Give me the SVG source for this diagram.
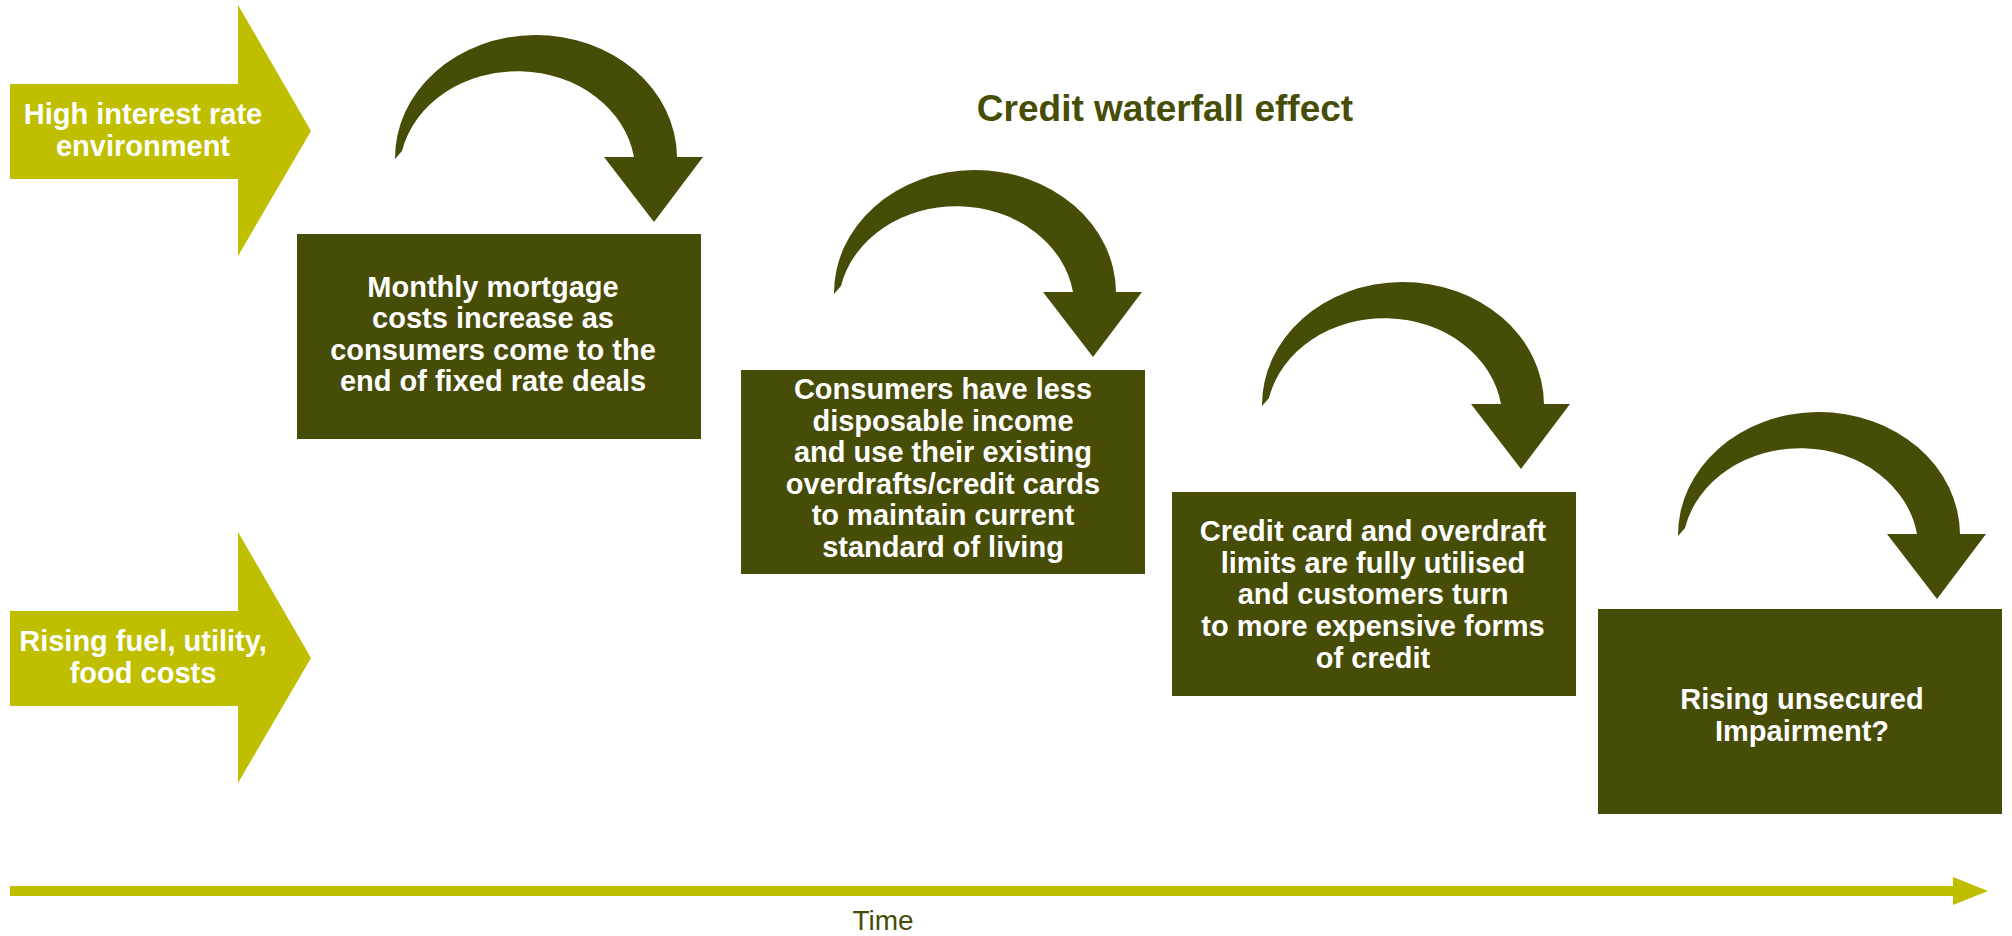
<svg xmlns="http://www.w3.org/2000/svg" xmlns:xlink="http://www.w3.org/1999/xlink" width="2012" height="936" viewBox="0 0 2012 936">
  <style>
    .driver { fill: #BFBF00; }
    .stage { fill: #474C06; }
    .flow { fill: #474C06; }
    .lbl { font-family: "Liberation Sans", Arial, Helvetica, sans-serif; font-weight: bold; font-size: 29px; fill: #FFFFFF; text-anchor: middle; }
    .title { font-family: "Liberation Sans", Arial, Helvetica, sans-serif; font-weight: bold; font-size: 37px; fill: #474C06; text-anchor: middle; }
    .axis-lbl { font-family: "Liberation Sans", Arial, Helvetica, sans-serif; font-size: 28px; fill: #474C06; text-anchor: middle; }
  </style>
  <defs>
    <!-- curved "fall-through" arrow: tapered crescent shaft plus triangular head -->
    <path id="curve-arrow" d="M395,159 A141,123 0 0 1 677,157 L703,157 L654,222 L604,157 L634,157 A118,101 0 0 0 402,151 Z"/>
  </defs>

  <rect width="2012" height="936" fill="#FFFFFF"/>

  <text class="title" x="1165" y="121">Credit waterfall effect</text>

  <!-- external drivers -->
  <g id="driver-interest">
    <path class="driver" d="M10,84 L238,84 L238,5 L311,131 L238,256 L238,179 L10,179 Z"/>
    <text class="lbl" x="143" y="124">High interest rate</text>
    <text class="lbl" x="143" y="156">environment</text>
  </g>
  <g id="driver-costs">
    <path class="driver" d="M10,611 L238,611 L238,532 L311,658 L238,783 L238,706 L10,706 Z"/>
    <text class="lbl" x="143" y="651">Rising fuel, utility,</text>
    <text class="lbl" x="143" y="683">food costs</text>
  </g>

  <!-- waterfall stages -->
  <g id="stage-mortgage">
    <rect class="stage" x="297" y="234" width="404" height="205"/>
    <text class="lbl" x="493" y="297">Monthly mortgage</text>
    <text class="lbl" x="493" y="328">costs increase as</text>
    <text class="lbl" x="493" y="360">consumers come to the</text>
    <text class="lbl" x="493" y="391">end of fixed rate deals</text>
  </g>
  <g id="stage-income">
    <rect class="stage" x="741" y="370" width="404" height="204"/>
    <text class="lbl" x="943" y="399">Consumers have less</text>
    <text class="lbl" x="943" y="431">disposable income</text>
    <text class="lbl" x="943" y="462">and use their existing</text>
    <text class="lbl" x="943" y="494">overdrafts/credit cards</text>
    <text class="lbl" x="943" y="525">to maintain current</text>
    <text class="lbl" x="943" y="557">standard of living</text>
  </g>
  <g id="stage-limits">
    <rect class="stage" x="1172" y="492" width="404" height="204"/>
    <text class="lbl" x="1373" y="541">Credit card and overdraft</text>
    <text class="lbl" x="1373" y="573">limits are fully utilised</text>
    <text class="lbl" x="1373" y="604">and customers turn</text>
    <text class="lbl" x="1373" y="636">to more expensive forms</text>
    <text class="lbl" x="1373" y="668">of credit</text>
  </g>
  <g id="stage-impairment">
    <rect class="stage" x="1598" y="609" width="404" height="205"/>
    <text class="lbl" x="1802" y="709">Rising unsecured</text>
    <text class="lbl" x="1802" y="741">Impairment?</text>
  </g>

  <!-- connectors between stages -->
  <g id="connectors">
    <use class="flow" xlink:href="#curve-arrow"/>
    <use class="flow" xlink:href="#curve-arrow" transform="translate(439,135)"/>
    <use class="flow" xlink:href="#curve-arrow" transform="translate(867,247)"/>
    <use class="flow" xlink:href="#curve-arrow" transform="translate(1283,377)"/>
  </g>

  <!-- time axis -->
  <g id="time-axis">
    <path class="driver" d="M10,886 L1953,886 L1953,877 L1988,891 L1953,905 L1953,896 L10,896 Z"/>
    <text class="axis-lbl" x="883" y="930">Time</text>
  </g>
</svg>
